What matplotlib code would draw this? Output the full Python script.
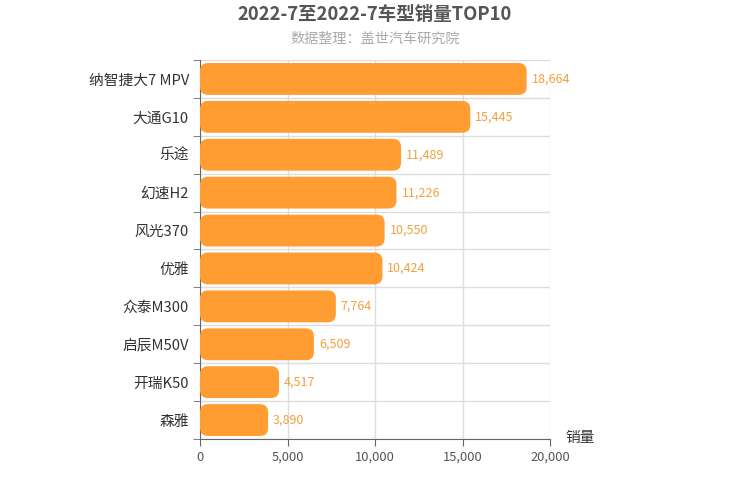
import numpy as np
import matplotlib.pyplot as plt
from matplotlib.patches import FancyBboxPatch
from matplotlib.ticker import FuncFormatter, FixedLocator

plt.rcParams['font.family'] = ['Noto Sans CJK SC', 'DejaVu Sans']

# data
models = ['纳智捷大7 MPV', '大通G10', '乐途', '幻速H2', '风光370',
          '优雅', '众泰M300', '启辰M50V', '开瑞K50', '森雅']
sales = [18664, 15445, 11489, 11226, 10550, 10424, 7764, 6509, 4517, 3890]

bar_color = '#FF9D33'
label_color = '#F2A03F'

fig = plt.figure(figsize=(7.5, 5), dpi=100)
ax = fig.add_axes([200 / 750, 1 - 439 / 500, 350 / 750, 379 / 500])

y = np.arange(len(models))
bars = ax.barh(y, sales, height=0.84, color=bar_color)

ax.set_xlim(0, 20000)
ax.set_ylim(len(models) - 0.5, -0.5)

# swap plain bars for rounded ones
x_per_px = 20000 / 350
y_per_px = len(models) / 379
for rect in bars:
    rect.set_visible(False)
    patch = FancyBboxPatch((rect.get_x(), rect.get_y()), rect.get_width(), rect.get_height(),
                           boxstyle='round,pad=0,rounding_size=%f' % (8 * x_per_px),
                           mutation_aspect=y_per_px / x_per_px,
                           facecolor=bar_color, edgecolor='none', zorder=3)
    ax.add_patch(patch)

for yi, v in zip(y, sales):
    ax.text(v + 5 * x_per_px, yi, f'{v:,}', va='center', ha='left',
            color=label_color, fontsize=9, fontweight='medium', zorder=4)

# axes styling
ax.set_yticks(y)
ax.set_yticklabels(models, fontsize=10.6, color='#333333', fontweight='medium')
ax.yaxis.set_minor_locator(FixedLocator(np.arange(-0.5, len(models), 1)))
ax.tick_params(axis='y', which='major', length=0, pad=8)
ax.tick_params(axis='y', which='minor', length=5, color='#666666')
ax.set_xticks(np.arange(0, 20001, 5000))
ax.xaxis.set_major_formatter(FuncFormatter(lambda v, p: f'{int(v):,}'))
ax.tick_params(axis='x', length=5, color='#666666', labelsize=9.3, labelcolor='#555555')

ax.grid(axis='x', color='#dddddd', linewidth=1, zorder=0)
ax.grid(axis='y', which='minor', color='#dddddd', linewidth=1, zorder=0)
ax.set_axisbelow(True)

for s in ['top', 'right']:
    ax.spines[s].set_visible(False)
ax.spines['left'].set_color('#666666')
ax.spines['bottom'].set_color('#666666')

fig.text(565 / 750, 1 - 438 / 500, '销量', fontsize=10.6, color='#333333', ha='left', va='center',
         fontweight='medium')

fig.text(0.5, 1 - 14 / 500, '2022-7至2022-7车型销量TOP10', ha='center', va='center',
         fontsize=13.3, fontweight='bold', color='#555555')
fig.text(0.5, 1 - 39 / 500, '数据整理：盖世汽车研究院', ha='center', va='center',
         fontsize=10.2, color='#aaaaaa')

fig.savefig('out.png', dpi=100)
